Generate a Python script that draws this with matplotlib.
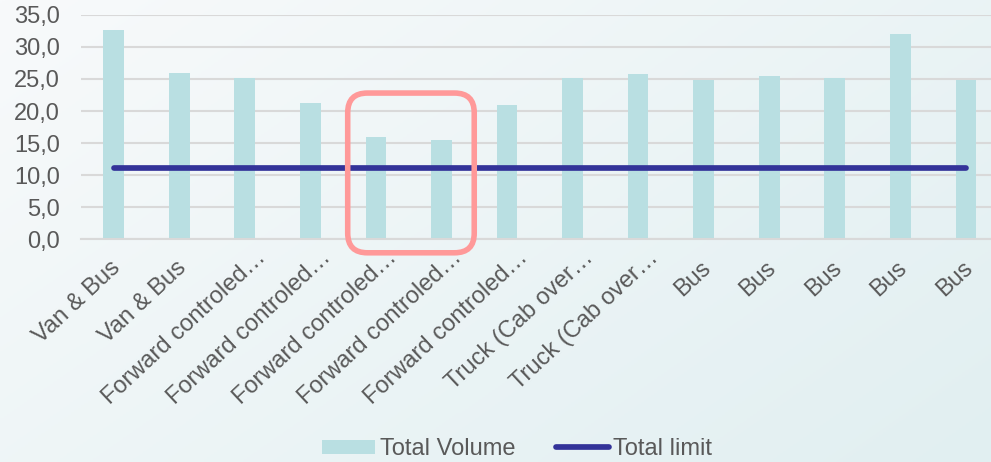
import numpy as np
import matplotlib
matplotlib.use("Agg")
import matplotlib.pyplot as plt
import matplotlib.transforms as mtransforms
from matplotlib.patches import FancyBboxPatch
from matplotlib.colors import LinearSegmentedColormap

categories = [
    "Van & Bus", "Van & Bus", "Forward controled…", "Forward controled…",
    "Forward controled…", "Forward controled…", "Forward controled…",
    "Truck (Cab over…", "Truck (Cab over…", "Bus", "Bus", "Bus", "Bus", "Bus",
]
total_volume = [32.7, 25.9, 25.1, 21.3, 15.9, 15.5, 20.9, 25.1, 25.8, 24.9, 25.4, 25.2, 32.0, 24.9]
total_limit = [11.1] * len(categories)
y_ticks = [0, 5, 10, 15, 20, 25, 30, 35]

plt.rcParams["font.family"] = ["Liberation Sans", "DejaVu Sans"]
TEXT = "#595959"
BAR = "#b9dfe2"
LINE = "#333399"
GRID = "#d9d9d9"

fig = plt.figure(figsize=(9.91, 4.62), dpi=100)

# soft diagonal background gradient
bg = fig.add_axes([0, 0, 1, 1], zorder=-10)
gx, gy = np.meshgrid(np.linspace(0, 1, 300), np.linspace(0, 1, 200))
grad = (gx * 0.6 + gy * 0.4)
cmap = LinearSegmentedColormap.from_list("bg", ["#f8fafb", "#e1eff1"])
bg.imshow(grad, cmap=cmap, aspect="auto", extent=[0, 1, 0, 1], origin="upper")
bg.axis("off")

ax = fig.add_axes([0.0816, 0.482, 0.9262, 0.486])
ax.set_facecolor("none")
x = np.arange(len(categories))

ax.bar(x, total_volume, width=0.315, color=BAR, zorder=2, label="Total Volume")
ax.plot(x, total_limit, color=LINE, lw=4.1, solid_capstyle="round", zorder=3, label="Total limit")

ax.set_xlim(-0.5, len(categories) - 0.5)
ax.set_ylim(0, 35)
ax.set_yticks(y_ticks)
ax.set_yticklabels([f"{v:.1f}".replace(".", ",") for v in y_ticks], fontsize=17, color=TEXT)
ax.set_xticks(x)
ax.set_xticklabels(categories, rotation=43, ha="right", rotation_mode="anchor",
                   fontsize=17, color=TEXT)
ax.tick_params(axis="both", length=0)
ax.tick_params(axis="y", pad=15)
ax.tick_params(axis="x", pad=11)
# truncated labels sit a little further up and to the right
long_shift = mtransforms.ScaledTranslation(0.10, 0.08, fig.dpi_scale_trans)
short_shift = mtransforms.ScaledTranslation(-0.04, -0.02, fig.dpi_scale_trans)
for lbl in ax.get_xticklabels():
    extra = long_shift if lbl.get_text().endswith("…") else short_shift
    lbl.set_transform(lbl.get_transform() + extra)
ax.grid(axis="y", color=GRID, lw=1.5, zorder=0)
ax.set_axisbelow(True)
for side in ("top", "right", "left"):
    ax.spines[side].set_visible(False)
ax.spines["bottom"].set_color(GRID)
ax.spines["bottom"].set_linewidth(1.5)

# highlight around the two lowest bars
box = FancyBboxPatch((3.57, -2.1), 1.93, 24.9,
                     boxstyle="round,pad=0,rounding_size=0.3",
                     mutation_aspect=10.2, fill=False, ec="#ff9999", lw=4,
                     clip_on=False, zorder=4)
ax.add_patch(box)

handles, labels = ax.get_legend_handles_labels()
fig.legend(handles[::-1], labels[::-1], loc="center", bbox_to_anchor=(0.522, 0.028),
           ncol=2, frameon=False, fontsize=17, labelcolor=TEXT,
           handlelength=2.25, handleheight=0.55, handletextpad=0.2, columnspacing=1.7)

fig.savefig("out.png", dpi=100)
